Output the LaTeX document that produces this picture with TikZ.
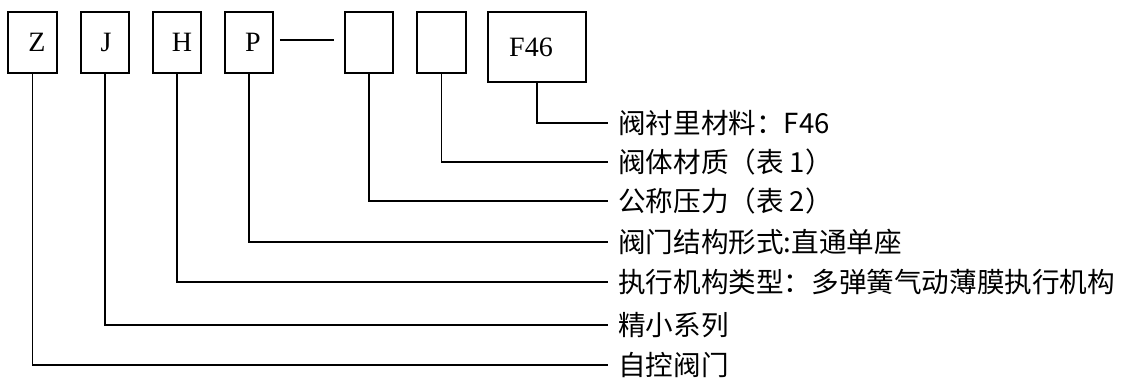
\documentclass[tikz,border=0pt]{standalone}
\usepackage{fontspec}
\setmainfont{Liberation Serif}
\newfontfamily\cjk{Noto Sans CJK SC}
\begin{document}
\begin{tikzpicture}[x=1pt,y=-1pt,
  box/.style={draw,line width=1.6pt,inner sep=0pt,minimum width=48pt,minimum height=61pt,font=\fontsize{28pt}{32pt}\selectfont},
  lbl/.style={anchor=west,inner xsep=10pt,inner ysep=0pt,font=\cjk\fontsize{27.6pt}{30pt}\selectfont},
  conn/.style={line width=1.6pt}]
\useasboundingbox (0,0) rectangle (1121,388);
\node[box,minimum width=49pt] (Z) at (32.5,42.5) {\hspace*{9pt}Z};
\node[box] (J) at (105,42.5) {\hspace*{2pt}J};
\node[box] (H) at (177,42.5) {\hspace*{10pt}H};
\node[box] (P) at (249,42.5) {\hspace*{8pt}P};
\node[box] (V) at (369,42.5) {};
\node[box,minimum width=49pt] (M) at (441.5,42.5) {};
\node[box,minimum width=98pt,minimum height=70pt] (F) at (537,47) {F46\hspace*{12pt}};
\draw[conn] ([xshift=6pt,yshift=2.5pt]P.east) -- ([xshift=-10pt,yshift=2.5pt]V.west);
\node[lbl] (l1) at (608,123) {阀衬里材料：F46};
\node[lbl] (l2) at (608,162) {阀体材质（表 1）};
\node[lbl] (l3) at (608,201) {公称压力（表 2）};
\node[lbl] (l4) at (608,242) {阀门结构形式:直通单座};
\node[lbl] (l5) at (608,282) {执行机构类型：多弹簧气动薄膜执行机构};
\node[lbl] (l6) at (608,325) {精小系列};
\node[lbl] (l7) at (608,365) {自控阀门};
\draw[conn] (F.south) |- (l1.west);
\draw[conn] (M.south) |- (l2.west);
\draw[conn] (V.south) |- (l3.west);
\draw[conn] (P.south) |- (l4.west);
\draw[conn] (H.south) |- (l5.west);
\draw[conn] (J.south) |- (l6.west);
\draw[conn] (Z.south) |- (l7.west);
\end{tikzpicture}
\end{document}
